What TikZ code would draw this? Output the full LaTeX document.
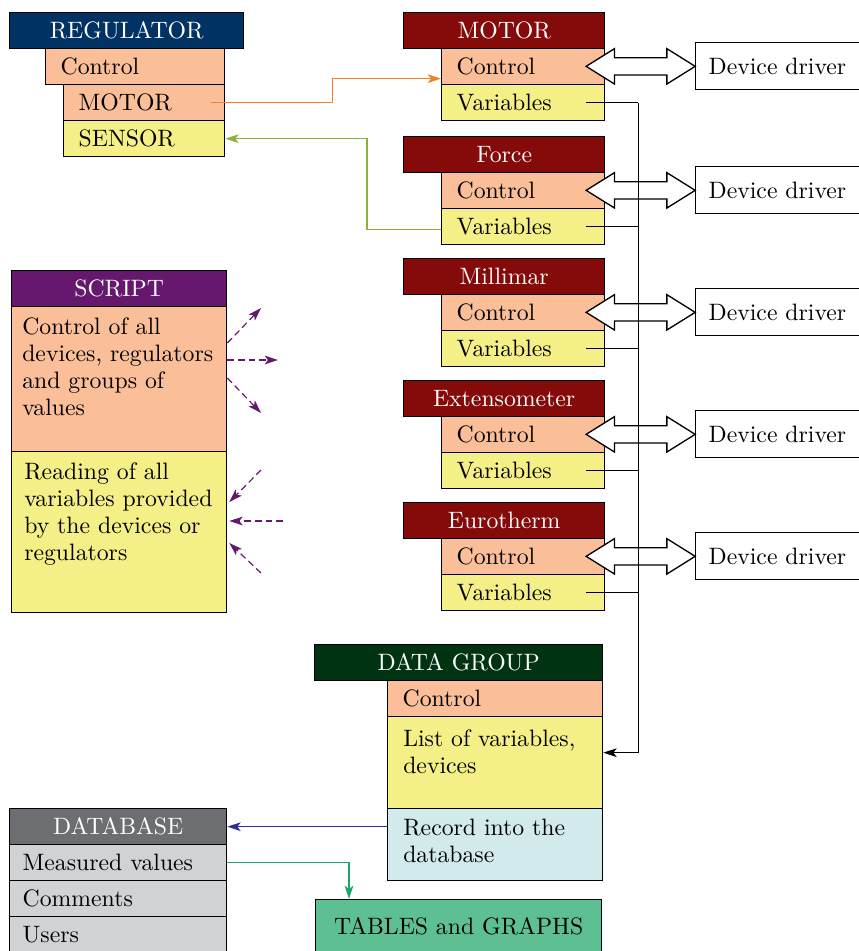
\documentclass[tikz,border=0pt]{standalone}
\usepackage{fontspec}
\setmainfont{lmroman10-regular.otf}
\usepackage{xcolor}
\usepackage{tikz}
\usetikzlibrary{arrows.meta,calc,shapes.arrows,positioning}

\definecolor{regblue}{RGB}{0,50,100}
\definecolor{devred}{RGB}{133,10,10}
\definecolor{scrpurple}{RGB}{101,24,110}
\definecolor{dggreen}{RGB}{0,51,17}
\definecolor{dbgray}{RGB}{109,110,113}
\definecolor{lgray}{RGB}{209,210,212}
\definecolor{salmon}{RGB}{250,191,153}
\definecolor{lemon}{RGB}{244,239,135}
\definecolor{recblue}{RGB}{210,234,236}
\definecolor{tabgreen}{RGB}{94,192,146}
\definecolor{orangeline}{RGB}{240,130,40}
\definecolor{oliveline}{RGB}{140,178,60}
\definecolor{blueline}{RGB}{46,49,146}
\definecolor{tealline}{RGB}{30,165,105}

\begin{document}
\begin{tikzpicture}[x=0.75pt,y=0.75pt,yscale=-1,xscale=1,
	font=\fontsize{17.8}{20.3}\selectfont,
	head/.style={draw, line width=1pt, text=white, anchor=north west, minimum height=27pt, inner sep=0pt},
	cell/.style={draw, line width=1pt, anchor=north west, minimum height=27pt, inner xsep=11.25pt, inner ysep=0pt, align=left},
	box/.style={draw, line width=1pt, anchor=north west, inner sep=0pt},
	boxtext/.style={anchor=north west, inner sep=0pt, align=left},
	driver/.style={draw, line width=1pt, fill=white, anchor=west, minimum height=35.25pt, text width=111.75pt, inner xsep=9.75pt, align=left},
	fatarrow/.style={double arrow, draw, line width=1pt, fill=white, inner xsep=0pt, inner ysep=6pt, minimum height=81.75pt, double arrow head extend=6.75pt, double arrow tip angle=64},
	conn/.style={line width=0.9pt},
	arr/.style={-{Stealth[length=10pt,width=6.5pt,inset=2.5pt]}},
	dashlink/.style={line width=0.9pt, scrpurple, dash pattern=on 5pt off 3pt, arr}]
	\useasboundingbox (0,0) rectangle (859,951);
	\clip (0,0) rectangle (859,951);

	% Regulator
	\node[head, fill=regblue, minimum width=175.5pt] (reghead) at (9,12) {REGULATOR};
	\node[cell, fill=salmon, text width=111.75pt] (regctl) at (45,48) {Control};
	\node[cell, fill=salmon, text width=98.25pt] (regmot) at (63,84) {MOTOR};
	\node[cell, fill=lemon, text width=98.25pt] (regsen) at (63,120) {SENSOR};

	% Device: MOTOR
	\node[head, fill=devred, minimum width=150.75pt] (mothead) at (403,12) {MOTOR};
	\node[cell, fill=salmon, text width=99.75pt] (motctl) at (441,48) {Control};
	\node[cell, fill=lemon, text width=99.75pt] (motvar) at (441,84) {Variables};
	\node[driver] (motdrv) at (695,66) {Device driver};
	% Device: Force
	\node[head, fill=devred, minimum width=150.75pt] (forhead) at (403,136) {Force};
	\node[cell, fill=salmon, text width=99.75pt] (forctl) at (441,172) {Control};
	\node[cell, fill=lemon, text width=99.75pt] (forvar) at (441,208) {Variables};
	\node[driver] (fordrv) at (695,190) {Device driver};
	% Device: Millimar
	\node[head, fill=devred, minimum width=150.75pt] (milhead) at (403,258) {Millimar};
	\node[cell, fill=salmon, text width=99.75pt] (milctl) at (441,294) {Control};
	\node[cell, fill=lemon, text width=99.75pt] (milvar) at (441,330) {Variables};
	\node[driver] (mildrv) at (695,312) {Device driver};
	% Device: Extensometer
	\node[head, fill=devred, minimum width=150.75pt] (exthead) at (403,380) {Extensometer};
	\node[cell, fill=salmon, text width=99.75pt] (extctl) at (441,416) {Control};
	\node[cell, fill=lemon, text width=99.75pt] (extvar) at (441,452) {Variables};
	\node[driver] (extdrv) at (695,434) {Device driver};
	% Device: Eurotherm
	\node[head, fill=devred, minimum width=150.75pt] (eurhead) at (403,502) {Eurotherm};
	\node[cell, fill=salmon, text width=99.75pt] (eurctl) at (441,538) {Control};
	\node[cell, fill=lemon, text width=99.75pt] (eurvar) at (441,574) {Variables};
	\node[driver] (eurdrv) at (695,556) {Device driver};

	% Control <-> driver
	\node[fatarrow] (motfat) at ($(motctl.east)!0.5!(motdrv.west)+(-9.5,0)$) {};
	\node[fatarrow] (forfat) at ($(forctl.east)!0.5!(fordrv.west)+(-9.5,0)$) {};
	\node[fatarrow] (milfat) at ($(milctl.east)!0.5!(mildrv.west)+(-9.5,0)$) {};
	\node[fatarrow] (extfat) at ($(extctl.east)!0.5!(extdrv.west)+(-9.5,0)$) {};
	\node[fatarrow] (eurfat) at ($(eurctl.east)!0.5!(eurdrv.west)+(-9.5,0)$) {};

	% Script
	\node[head, fill=scrpurple, minimum width=161.25pt] (scrhead) at (11,270) {SCRIPT};
	\node[box, fill=salmon, minimum width=161.25pt, minimum height=108.75pt] (scrctl) at (11,306) {};
	\node[boxtext] (scrctltxt) at ($(scrctl.north west)+(11,11)$) {Control of all\\devices, regulators\\and groups of\\values};
	\node[box, fill=lemon, minimum width=161.25pt, minimum height=120.75pt] (scrread) at (11,451) {};
	\node[boxtext] (scrreadtxt) at ($(scrread.north west)+(13,11)$) {Reading of all\\variables provided\\by the devices or\\regulators};

	% Data group
	\node[head, fill=dggreen, minimum width=216pt] (dghead) at (314,644) {DATA GROUP};
	\node[cell, fill=salmon, text width=138.75pt] (dgctl) at (387,680) {Control};
	\node[box, fill=lemon, minimum width=161.25pt, minimum height=69pt] (dglist) at (387,716) {};
	\node[boxtext] (dglisttxt) at ($(dglist.north west)+(16,13)$) {List of variables,\\devices};
	\node[box, fill=recblue, minimum width=161.25pt, minimum height=54pt] (dgrec) at (387,808) {};
	\node[boxtext] (dgrectxt) at ($(dgrec.north west)+(16,11)$) {Record into the\\database};

	% Database
	\node[head, fill=dbgray, minimum width=162.75pt] (dbhead) at (9,808) {DATABASE};
	\node[cell, fill=lgray, text width=143.25pt, inner xsep=9.75pt] (dbmeas) at (9,844) {Measured values};
	\node[cell, fill=lgray, text width=143.25pt, inner xsep=9.75pt] (dbcom) at (9,880) {Comments};
	\node[cell, fill=lgray, text width=143.25pt, inner xsep=9.75pt] (dbusr) at (9,916) {Users};

	% Tables and graphs
	\node[box, fill=tabgreen, minimum width=214.5pt, minimum height=40.5pt] (tab) at (315,899) {TABLES and GRAPHS};

	% Variables bus
	\draw[conn] ($(motvar.east)+(-19,0)$) -- ++(52,0);
	\draw[conn] ($(forvar.east)+(-19,0)$) -- ++(52,0);
	\draw[conn] ($(milvar.east)+(-19,0)$) -- ++(52,0);
	\draw[conn] ($(extvar.east)+(-19,0)$) -- ++(52,0);
	\draw[conn] ($(eurvar.east)+(-19,0)$) -- ++(52,0);
	\draw[conn, arr] ($(motvar.east)+(33,0)$) |- ($(dglist.east)+(0,-10)$);

	% Regulator links
	\draw[conn, orangeline, arr] ($(regmot.east)+(-14,0)$) -- ++(121,0) |- ($(motctl.west)+(0,12)$);
	\draw[conn, oliveline, arr] ($(forvar.west)+(0,3)$) -- ++(-74,0) |- (regsen.east);

	% Script links
	\coordinate (out1) at (261,308);
	\coordinate (out2) at (278,360);
	\coordinate (out3) at (261,413);
	\coordinate (in1) at (261,470);
	\coordinate (in2) at (283,521);
	\coordinate (in3) at (261,573);
	\draw[dashlink] ($(scrctl.north east)+(0,37)$) -- (out1);
	\draw[dashlink] ($(scrctl.north east)+(0,54)$) -- (out2);
	\draw[dashlink] ($(scrctl.north east)+(0,72)$) -- (out3);
	\draw[dashlink] (in1) -- ($(scrread.north east)+(2,51)$);
	\draw[dashlink] (in2) -- ($(scrread.north east)+(2,70)$);
	\draw[dashlink] (in3) -- ($(scrread.north east)+(2,92)$);

	% Database links
	\draw[conn, blueline, arr] (dgrec.west |- dbhead.east) -- (dbhead.east);
	\draw[conn, tealline, arr] (dbmeas.east) -| ($(tab.north west)+(34,0)$);
\end{tikzpicture}
\end{document}
